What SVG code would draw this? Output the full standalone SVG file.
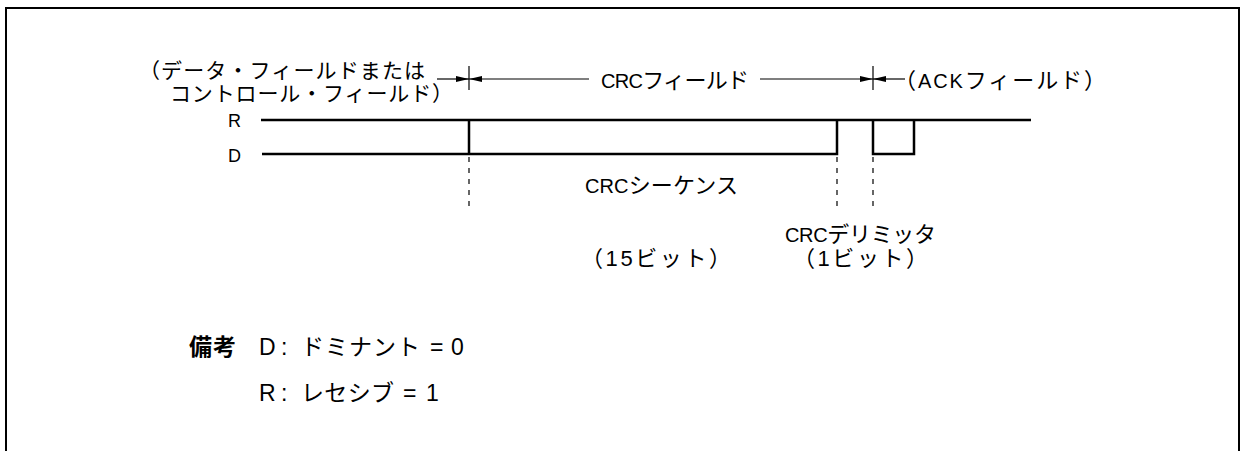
<svg xmlns="http://www.w3.org/2000/svg" width="1241" height="451" viewBox="0 0 1241 451">
<style>
text{font-family:"Liberation Sans","Noto Sans CJK JP",sans-serif;font-size:22px;fill:#000}
.lat{font-size:20px}
.sig{fill:none;stroke:#000;stroke-width:2.5}
.dim{fill:none;stroke:#000;stroke-width:1.2}
.dash{fill:none;stroke:#000;stroke-width:1.2;stroke-dasharray:5 6}
.frame{fill:none;stroke:#000;stroke-width:2}
.lbl{font-size:18px}
.note{font-size:23px}
.two{font-size:21px}
</style>
<defs>
<marker id="ah" viewBox="0 0 13 6" refX="13" refY="3" markerWidth="13" markerHeight="6" markerUnits="userSpaceOnUse" orient="auto">
<path d="M0,0 L13,3 L0,6 Z" fill="#000"/>
</marker>
</defs>
<path class="frame" d="M6,451 V8 H1239 V451"/>
<g id="connectors">
<line class="dim" x1="437" y1="79" x2="469" y2="79" marker-end="url(#ah)"/>
<line class="dim" x1="589" y1="79" x2="469" y2="79" marker-end="url(#ah)"/>
<line class="dim" x1="760" y1="79" x2="873" y2="79" marker-end="url(#ah)"/>
<line class="dim" x1="905" y1="79" x2="873" y2="79" marker-end="url(#ah)"/>
<line class="dim" x1="469" y1="66" x2="469" y2="90"/>
<line class="dim" x1="873" y1="66" x2="873" y2="90"/>
<line class="dash" x1="469" y1="157" x2="469" y2="210"/>
<line class="dash" x1="837" y1="157" x2="837" y2="207"/>
<line class="dash" x1="873" y1="157" x2="873" y2="207"/>
</g>
<g id="signal-R">
<line class="sig" x1="261" y1="120" x2="1031" y2="120"/>
<text class="lbl" x="241" y="127" text-anchor="end">R</text>
</g>
<g id="signal-D">
<path class="sig" d="M262,154 H837 V120 M469,154 V120 M873,120 V154 H914 V120"/>
<text class="lbl" x="241" y="162" text-anchor="end">D</text>
</g>
<g id="label-prev">
<text class="two" x="139" y="78" textLength="286" lengthAdjust="spacing">（データ・フィールドまたは</text>
<text class="two" x="170" y="101" textLength="283" lengthAdjust="spacing">コントロール・フィールド）</text>
</g>
<g id="label-crc">
<text x="601" y="88" textLength="148" lengthAdjust="spacing"><tspan class="lat">CRC</tspan>フィールド</text>
</g>
<g id="label-ack">
<text x="894" y="88" textLength="212" lengthAdjust="spacing">（<tspan class="lat">ACK</tspan>フィールド）</text>
</g>
<g id="label-seq">
<text x="585" y="193" textLength="153" lengthAdjust="spacing"><tspan class="lat">CRC</tspan>シーケンス</text>
<text x="581" y="266" textLength="150" lengthAdjust="spacing">（15ビット）</text>
</g>
<g id="label-delim">
<text x="785" y="242" textLength="151" lengthAdjust="spacing"><tspan class="lat">CRC</tspan>デリミッタ</text>
<text x="793" y="266" textLength="135" lengthAdjust="spacing">（1ビット）</text>
</g>
<g id="note">
<text x="189" y="355" font-weight="bold" class="note" textLength="47" lengthAdjust="spacing">備考</text>
<text class="note" y="355"><tspan x="259">D </tspan><tspan x="281">: </tspan><tspan x="301" textLength="119" lengthAdjust="spacing">ドミナント</tspan> <tspan x="430">= </tspan><tspan x="451">0</tspan></text>
<text class="note" y="401"><tspan x="259">R </tspan><tspan x="281">: </tspan><tspan x="301" textLength="93" lengthAdjust="spacing">レセシブ</tspan> <tspan x="403">= </tspan><tspan x="426">1</tspan></text>
</g>
</svg>
